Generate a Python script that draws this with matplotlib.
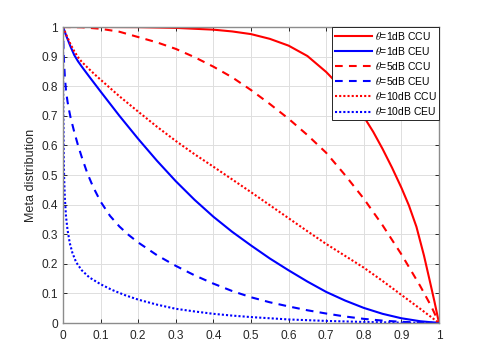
import matplotlib
matplotlib.use("Agg")
import matplotlib.pyplot as plt

# ---------------- data ----------------
x_ccu_1dB = [0, 0.1, 0.2, 0.3, 0.4, 0.45, 0.5, 0.55, 0.6, 0.65, 0.7, 0.75, 0.8,
             0.825, 0.85, 0.875, 0.9, 0.92, 0.94, 0.96, 0.975, 0.988, 1.0]
y_ccu_1dB = [1.0, 1.0, 0.9995, 0.997, 0.991, 0.985, 0.976, 0.96, 0.937, 0.902,
             0.848, 0.782, 0.697, 0.646, 0.588, 0.525, 0.457, 0.397, 0.325,
             0.228, 0.145, 0.072, 0.0]

x_ceu_1dB = [0, 0.01, 0.02, 0.03, 0.04, 0.05, 0.07, 0.085, 0.1, 0.15, 0.2, 0.25,
             0.3, 0.35, 0.4, 0.45, 0.5, 0.55, 0.6, 0.65, 0.7, 0.75, 0.8, 0.85,
             0.9, 0.95, 1.0]
y_ceu_1dB = [1.0, 0.966, 0.934, 0.905, 0.884, 0.866, 0.832, 0.807, 0.782, 0.700,
             0.622, 0.548, 0.479, 0.416, 0.359, 0.308, 0.262, 0.218, 0.178, 0.14,
             0.105, 0.076, 0.051, 0.031, 0.016, 0.006, 0.0]

x_ccu_5dB = [0, 0.05, 0.1, 0.15, 0.2, 0.25, 0.3, 0.35, 0.4, 0.45, 0.5, 0.55, 0.6,
             0.65, 0.7, 0.75, 0.8, 0.85, 0.9, 0.95, 0.98, 1.0]
y_ccu_5dB = [1.0, 0.999, 0.994, 0.984, 0.966, 0.948, 0.926, 0.898, 0.866, 0.83,
             0.787, 0.74, 0.69, 0.635, 0.575, 0.5, 0.42, 0.33, 0.232, 0.125,
             0.055, 0.0]

x_ceu_5dB = [0, 0.0015, 0.003, 0.005, 0.008, 0.012, 0.016, 0.02, 0.03, 0.04, 0.05,
             0.065, 0.08, 0.1, 0.125, 0.15, 0.175, 0.2, 0.25, 0.3, 0.35, 0.4,
             0.45, 0.5, 0.55, 0.6, 0.65, 0.7, 0.75, 0.8, 0.85, 0.9, 0.95, 1.0]
y_ceu_5dB = [1.0, 0.92, 0.875, 0.83, 0.785, 0.748, 0.72, 0.695, 0.645, 0.6, 0.56,
             0.505, 0.46, 0.41, 0.362, 0.326, 0.297, 0.272, 0.229, 0.193, 0.161,
             0.133, 0.108, 0.087, 0.07, 0.056, 0.043, 0.032, 0.022, 0.014, 0.008,
             0.004, 0.0015, 0.0]

x_ccu_10dB = [0, 0.01, 0.02, 0.03, 0.04, 0.05, 0.07, 0.085, 0.1, 0.15, 0.2, 0.25,
              0.3, 0.35, 0.4, 0.45, 0.5, 0.55, 0.6, 0.65, 0.7, 0.75, 0.8, 0.85,
              0.9, 0.95, 1.0]
y_ccu_10dB = [1.0, 0.97, 0.942, 0.918, 0.898, 0.882, 0.857, 0.839, 0.822, 0.766,
              0.714, 0.663, 0.615, 0.57, 0.528, 0.485, 0.442, 0.398, 0.354, 0.31,
              0.267, 0.227, 0.187, 0.142, 0.095, 0.048, 0.0]

x_ceu_10dB = [0, 0.0003, 0.001, 0.002, 0.003, 0.005, 0.008, 0.012, 0.018, 0.025,
              0.035, 0.05, 0.07, 0.1, 0.13, 0.165, 0.2, 0.25, 0.3, 0.35, 0.4,
              0.45, 0.5, 0.6, 0.7, 0.8, 0.9, 1.0]
y_ceu_10dB = [1.0, 0.85, 0.7, 0.56, 0.49, 0.42, 0.36, 0.315, 0.27, 0.237, 0.205,
              0.178, 0.154, 0.131, 0.112, 0.094, 0.079, 0.062, 0.048, 0.039, 0.031,
              0.025, 0.02, 0.012, 0.007, 0.0035, 0.0012, 0.0]

series_labels = [r"$\theta$=1dB CCU", r"$\theta$=1dB CEU", r"$\theta$=5dB CCU",
                 r"$\theta$=5dB CEU", r"$\theta$=10dB CCU", r"$\theta$=10dB CEU"]

tick_vals = [0, 0.1, 0.2, 0.3, 0.4, 0.5, 0.6, 0.7, 0.8, 0.9, 1.0]
tick_labels = ["0", "0.1", "0.2", "0.3", "0.4", "0.5", "0.6", "0.7", "0.8", "0.9", "1"]
y_label = "Meta distribution"

# ---------------- plotting ----------------
plt.rcParams["font.family"] = ["Liberation Sans", "DejaVu Sans"]
plt.rcParams["mathtext.fontset"] = "stix"

fig = plt.figure(figsize=(4.85, 3.63), dpi=100)
fig.patch.set_facecolor("white")
ax = fig.add_axes([63 / 485, 1 - 323 / 363, 376 / 485, 296 / 363])

lw = 1.5
solid = "-"
dashed = (0, (3.7, 3.0))
dotted = (0, (1.0, 1.0))

ax.plot(x_ccu_1dB, y_ccu_1dB, color="#ff0000", lw=lw, ls=solid, label=series_labels[0])
ax.plot(x_ceu_1dB, y_ceu_1dB, color="#0000ff", lw=lw, ls=solid, label=series_labels[1])
ax.plot(x_ccu_5dB, y_ccu_5dB, color="#ff0000", lw=lw, ls=dashed, label=series_labels[2])
ax.plot(x_ceu_5dB, y_ceu_5dB, color="#0000ff", lw=lw, ls=dashed, label=series_labels[3])
ax.plot(x_ccu_10dB, y_ccu_10dB, color="#ff0000", lw=lw, ls=dotted, label=series_labels[4])
ax.plot(x_ceu_10dB, y_ceu_10dB, color="#0000ff", lw=lw, ls=dotted, label=series_labels[5])

ax.set_xlim(0, 1)
ax.set_ylim(0, 1)
ax.set_xticks(tick_vals)
ax.set_xticklabels(tick_labels)
ax.set_yticks(tick_vals)
ax.set_yticklabels(tick_labels)

ax.grid(True, color="#dedede", lw=0.7)
ax.set_axisbelow(True)

for sp in ax.spines.values():
    sp.set_color("#8c8c8c")
    sp.set_linewidth(1.0)

ax.tick_params(direction="in", top=True, right=True, length=3, width=0.7,
               color="#262626", labelsize=8.6, labelcolor="#262626")
ax.tick_params(axis="x", pad=5)
ax.tick_params(axis="y", pad=3.5)

ax.set_ylabel(y_label, fontsize=9.1, color="#262626", labelpad=3)

leg = ax.legend(loc="upper right", borderaxespad=0.0, fontsize=7.5,
                frameon=True, fancybox=False, framealpha=1.0,
                handlelength=3.6, handletextpad=0.25, borderpad=0.25,
                labelspacing=0.3)
leg.get_frame().set_edgecolor("#262626")
leg.get_frame().set_linewidth(0.7)

fig.savefig("out.png", dpi=100, facecolor="white")
